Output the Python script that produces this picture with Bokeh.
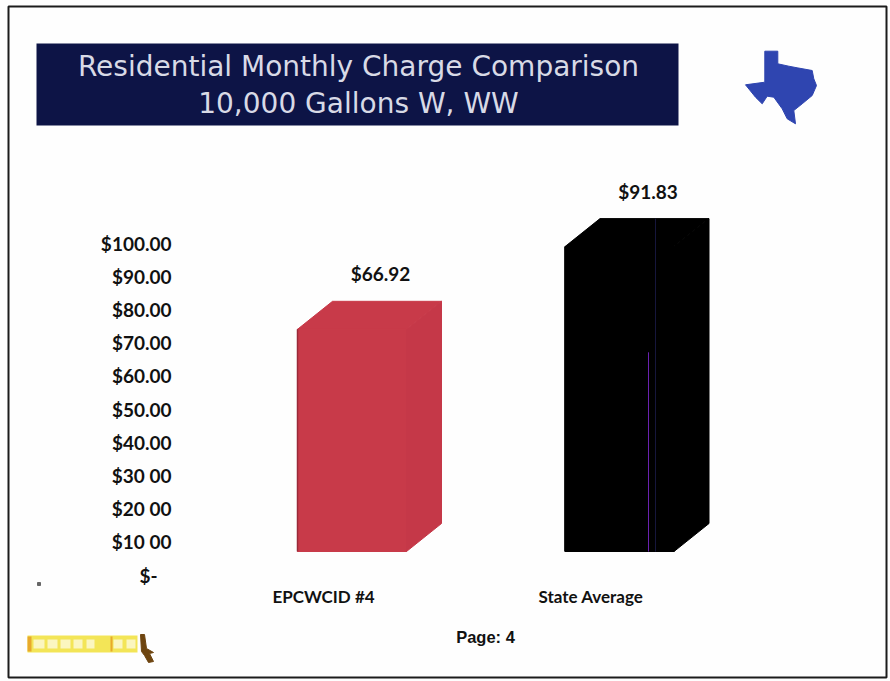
from bokeh.plotting import figure
from bokeh.embed import file_html
from bokeh.resources import INLINE
from bokeh.models import (Range1d, LinearAxis, FixedTicker, BoxAnnotation, Label,
                          PolyAnnotation, ColumnDataSource)
from bokeh.core.properties import value

categories = ["EPCWCID #4", "State Average"]
charges = [66.92, 91.83]
charge_labels = ["$66.92", "$91.83"]
bar_colors = ["#c83a49", "#000000"]
side_colors = ["#c53848", "#000000"]
edge_colors = ["#9a2a38", "#000000"]
tick_values = [0, 10, 20, 30, 40, 50, 60, 70, 80, 90, 100]
tick_labels = ["$-\u00a0\u00a0\u00a0", "$10 00", "$20 00", "$30 00", "$40.00", "$50.00",
               "$60.00", "$70.00", "$80.00", "$90.00", "$100.00"]
title_lines = ["Residential Monthly Charge Comparison", "10,000 Gallons W, WW"]

W, H = 890, 681
PX_PER_UNIT = 3.32    # page pixels per dollar
PX_PER_CAT = 267.5
ZERO_BAR, ZERO_AXIS = 551, 574.5
CAT0 = 323


def px_x(px):
    return (px - CAT0) / PX_PER_CAT


p = figure(width=W, height=H, output_backend="svg", toolbar_location=None,
           x_range=Range1d(px_x(0), px_x(W)),
           y_range=Range1d((ZERO_BAR - H) / PX_PER_UNIT, ZERO_BAR / PX_PER_UNIT),
           min_border_left=0, min_border_right=0, min_border_top=0, min_border_bottom=0,
           background_fill_color="#fefefe", border_fill_color="#fefefe",
           outline_line_color=None, x_axis_location=None, y_axis_location=None)
p.grid.visible = False

xax = LinearAxis(fixed_location=(ZERO_BAR - 588 + 9) / PX_PER_UNIT, ticker=FixedTicker(ticks=[0, 1]),
                 major_label_overrides={i: c for i, c in enumerate(categories)},
                 axis_line_color=None, major_tick_line_color=None, minor_tick_line_color=None,
                 major_label_standoff=0, major_label_text_font="Lato",
                 major_label_text_font_size="17px", major_label_text_font_style="bold",
                 major_label_text_color="#111111")
p.add_layout(xax, "below")

p.extra_y_ranges = {"ticks": Range1d((ZERO_AXIS - H) / PX_PER_UNIT, ZERO_AXIS / PX_PER_UNIT)}
ax = LinearAxis(y_range_name="ticks", fixed_location=px_x(177), ticker=FixedTicker(ticks=tick_values),
                major_label_overrides=dict(zip(tick_values, tick_labels)),
                axis_line_color=None, major_tick_line_color=None, minor_tick_line_color=None,
                major_label_standoff=0, major_label_text_font="Lato",
                major_label_text_font_size="19px", major_label_text_font_style="bold",
                major_label_text_color="#111111")
p.add_layout(ax, "left")

# 3-D bars built from the values
FRONT_W = 109 / PX_PER_CAT
DEPTH_X = 35 / PX_PER_CAT
DEPTH_Y = 28 / PX_PER_UNIT
LEFT_OFF = 26 / PX_PER_CAT       # bar left edge relative to the category tick
for i, (v, c, s, e) in enumerate(zip(charges, bar_colors, side_colors, edge_colors)):
    x0 = i - LEFT_OFF
    x1 = x0 + FRONT_W
    p.patch([x0, x1, x1, x0], [0, 0, v, v], fill_color=c, line_color=c)
    p.patch([x1, x1 + DEPTH_X, x1 + DEPTH_X, x1], [0, DEPTH_Y, v + DEPTH_Y, v],
            fill_color=s, line_color=s)
    p.patch([x0, x0 + DEPTH_X, x1 + DEPTH_X, x1], [v, v + DEPTH_Y, v + DEPTH_Y, v],
            fill_color=c, line_color=c)
    p.line([x0, x0], [0, v], line_color=e, line_width=1.5)

# value labels
src = ColumnDataSource(dict(x=[i + 57 / PX_PER_CAT for i in range(2)],
                            y=[v + 55.5 / PX_PER_UNIT for v in charges],
                            t=charge_labels))
p.text("x", "y", "t", source=src, text_font=value("Lato"), text_font_size="19px",
       text_font_style="bold", text_align="center", text_baseline="middle", text_color="#111111")

# thin scan lines on the black bar
p.line([px_x(648), px_x(648)], [0, 60], line_color="#6a22b0", line_width=1)
p.line([px_x(655), px_x(655)], [0, charges[1] + DEPTH_Y], line_color="#16163c", line_width=1)


# page decoration: screen units run from the frame's lower-left corner
def sy(y):
    return H - y


def box(l, r, t, b, **kw):
    p.add_layout(BoxAnnotation(left=l, right=r, top=sy(t), bottom=sy(b), left_units="screen",
                               right_units="screen", top_units="screen", bottom_units="screen", **kw))


def poly(xs, ys, color):
    p.add_layout(PolyAnnotation(xs=xs, ys=[sy(v) for v in ys], xs_units="screen",
                                ys_units="screen", fill_color=color, fill_alpha=1, line_color=color,
                                line_alpha=1))


box(36, 678, 43, 125, fill_color="#0d1446", fill_alpha=1, line_color=None)
for line, yc in zip(title_lines, [66, 103]):
    p.add_layout(Label(x=358, y=sy(yc), x_units="screen", y_units="screen", text=line,
                       text_align="center", text_baseline="middle", text_color="#d8dae6",
                       text_font="DejaVu Sans", text_font_size="28px"))
box(8, 886, 6, 677, fill_alpha=0, line_color="#1c1c1c", line_alpha=1, line_width=2)
poly([764.3, 777.3, 777.3, 788.3, 796.7, 811.7, 813.3, 816, 811.7, 801.7, 793.3, 795, 786.7, 781.7,
      773.3, 766.7, 761.7, 755, 745, 764.3],
     [50.7, 50.7, 63.3, 65.7, 67.3, 70, 78.3, 85, 95, 103.3, 110, 123.3, 118.3, 108.3, 96.7, 95.7,
      103.3, 96.7, 84.3, 81.7], "#2f45b0")
box(27, 137, 635, 652, fill_color="#f3e557", fill_alpha=1, line_color=None)
box(27, 31, 636, 651, fill_color="#e8a92c", fill_alpha=1, line_color=None)
for l, r in [(33, 44), (47, 57), (60, 70), (73, 82), (86, 94), (113, 122), (126, 135)]:
    box(l, r, 639, 648, fill_color="#fbf6c0", fill_alpha=1, line_color=None)
box(110, 112, 636, 651, fill_color="#e8a92c", fill_alpha=1, line_color=None)
poly([140, 144, 146, 153, 149, 153, 148, 144, 141], [634, 634, 648, 652, 653, 661, 662, 655, 651], "#6e4510")
poly([37, 40, 40, 37], [582, 582, 585, 585], "#666666")
p.add_layout(Label(x=485, y=sy(636), x_units="screen", y_units="screen", text="Page: 4",
                   text_align="center", text_baseline="middle", text_color="#111111",
                   text_font="Liberation Sans", text_font_style="bold", text_font_size="16.5px"))

open("out.html", "w").write(file_html(p, INLINE))
